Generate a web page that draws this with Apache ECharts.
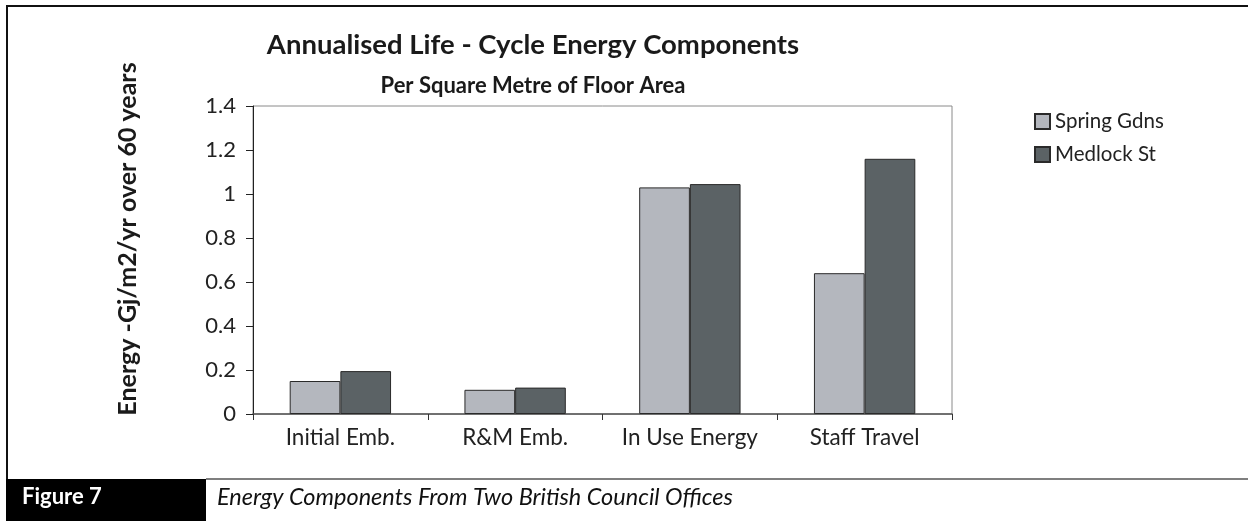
<!DOCTYPE html>
<html>
<head>
<meta charset="utf-8">
<script src="https://cdn.jsdelivr.net/npm/echarts@6/dist/echarts.min.js"></script>
<style>
  html, body { margin: 0; padding: 0; background: #fff; }
  #chart { width: 1248px; height: 521px; }
</style>
</head>
<body>
<div id="chart"></div>
<script>
const categories = ["Initial Emb.", "R&M Emb.", "In Use Energy", "Staff Travel"];
const springGdns = [0.15, 0.11, 1.03, 0.64];
const medlockSt = [0.195, 0.12, 1.045, 1.16];
const seriesNames = ["Spring Gdns", "Medlock St"];

const FONT = "Lato, 'Open Sans', sans-serif";

const chart = echarts.init(document.getElementById("chart"));

chart.setOption({
  animation: false,
  textStyle: { fontFamily: FONT },
  title: [
    {
      text: "Annualised Life - Cycle Energy Components",
      left: 528,
      top: 26,
      textAlign: "center",
      textStyle: { fontSize: 27.5, fontWeight: "bold", color: "#1a1a1a", fontFamily: FONT }
    },
    {
      text: "Per Square Metre of Floor Area",
      left: 528,
      top: 70,
      textAlign: "center",
      textStyle: { fontSize: 22, fontWeight: "bold", color: "#1a1a1a", fontFamily: FONT }
    }
  ],
  legend: {
    orient: "vertical",
    left: 1029,
    top: 106,
    itemWidth: 15,
    itemHeight: 15,
    itemGap: 12,
    icon: "rect",
    textStyle: { fontSize: 20.5, color: "#222", fontFamily: FONT },
    data: seriesNames
  },
  grid: {
    left: 253,
    right: 296,
    top: 106,
    bottom: 107,
    show: true,
    borderColor: "#8a8a8a",
    borderWidth: 1
  },
  xAxis: {
    type: "category",
    data: categories,
    axisLine: { lineStyle: { color: "#555", width: 1.5 } },
    axisTick: { show: true, length: 6, lineStyle: { color: "#333" } },
    axisLabel: { fontSize: 22.5, color: "#222", margin: 12, interval: 0 }
  },
  yAxis: {
    type: "value",
    min: 0,
    max: 1.4,
    interval: 0.2,
    name: "Energy -Gj/m2/yr over 60 years",
    nameLocation: "middle",
    nameRotate: 90,
    nameGap: 113,
    nameTextStyle: { fontSize: 25, fontWeight: "bold", color: "#1a1a1a", padding: [0, 0, 0, 42] },
    axisLine: { show: true, lineStyle: { color: "#222", width: 1 } },
    axisTick: { show: true, length: 7, lineStyle: { color: "#222" } },
    axisLabel: { fontSize: 22, color: "#222", margin: 17 },
    splitLine: { show: false }
  },
  series: [
    {
      name: seriesNames[0],
      type: "bar",
      data: springGdns,
      barGap: "0%",
      barCategoryGap: "42%",
      itemStyle: { color: "#b4b7be", borderColor: "#2a2a2a", borderWidth: 1 }
    },
    {
      name: seriesNames[1],
      type: "bar",
      data: medlockSt,
      itemStyle: { color: "#5b6265", borderColor: "#2a2a2a", borderWidth: 1 }
    }
  ],
  graphic: [
    { type: "line", shape: { x1: 7, y1: 6, x2: 1248, y2: 6 }, style: { stroke: "#111", lineWidth: 2 } },
    { type: "line", shape: { x1: 7, y1: 5, x2: 7, y2: 479 }, style: { stroke: "#111", lineWidth: 2 } },
    { type: "rect", shape: { x: 6, y: 479, width: 200, height: 42 }, style: { fill: "#000" } },
    { type: "line", shape: { x1: 206, y1: 479, x2: 1248, y2: 479 }, style: { stroke: "#555", lineWidth: 1.5 } },
    {
      type: "text", left: 22, top: 486,
      style: { text: "Figure 7", fill: "#fff", font: "bold 22px " + FONT }
    },
    {
      type: "text", left: 217, top: 486,
      style: { text: "Energy Components From Two British Council Offices", fill: "#111", font: "italic 23.5px " + FONT }
    }
  ]
});
</script>
</body>
</html>
